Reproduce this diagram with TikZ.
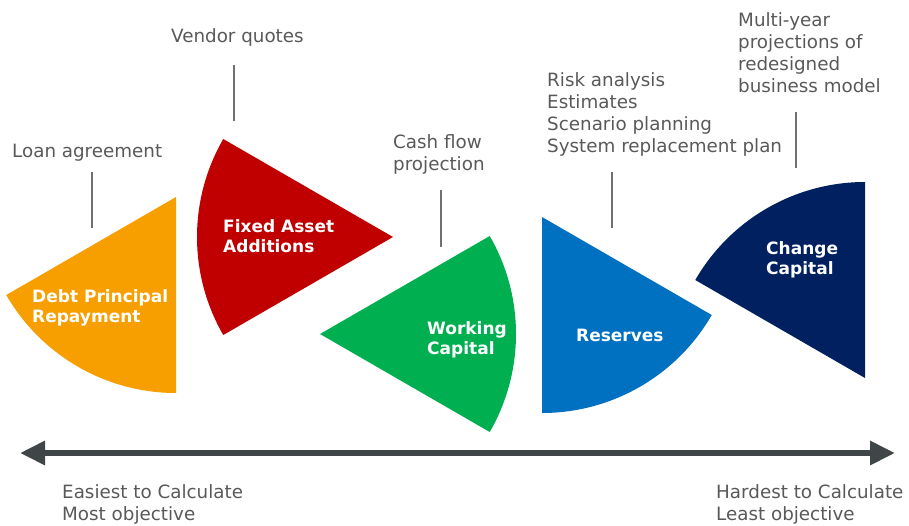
\documentclass[tikz,border=0pt]{standalone}
\usepackage{fontspec}
\setmainfont{DejaVu Sans}
\usetikzlibrary{arrows.meta}

\definecolor{debtcol}{RGB}{247,158,0}
\definecolor{assetcol}{RGB}{192,0,0}
\definecolor{workcol}{RGB}{0,176,80}
\definecolor{reservecol}{RGB}{0,112,192}
\definecolor{changecol}{RGB}{0,32,96}
\definecolor{notecol}{RGB}{89,89,89}
\definecolor{tickcol}{RGB}{112,112,112}
\definecolor{axiscol}{RGB}{64,69,71}

\begin{document}
\begin{tikzpicture}[x=1pt,y=-1pt]

        \useasboundingbox (0,0) rectangle (909,525);

        \fill[debtcol]    (176,197) -- ++(90:196)  arc (90:150:196)   -- cycle;
        \fill[assetcol]   (393,237) -- ++(150:196) arc (150:210:196)  -- cycle;
        \fill[workcol]    (320,334) -- ++(-30:196) arc (-30:30:196)   -- cycle;
        \fill[reservecol] (542,217) -- ++(30:196)  arc (30:90:196)    -- cycle;
        \fill[changecol]  (865,378) -- ++(210:196) arc (210:270:196)  -- cycle;

        \begin{scope}[every node/.style={anchor=base west, align=left, inner sep=0pt,
            text=white, font=\bfseries\fontsize{17}{20}\selectfont}]
          \node (1) at (32,322)  {Debt Principal\\Repayment};
          \node (2) at (223,252) {Fixed Asset\\Additions};
          \node (3) at (427,354) {Working\\Capital};
          \node (4) at (576,341) {Reserves};
          \node (5) at (766,274) {Change\\Capital};
        \end{scope}

        \begin{scope}[every node/.style={anchor=base west, align=left, inner sep=0pt,
            text=notecol, font=\fontsize{18.3}{22}\selectfont}]
          \node (n1) at (12,157)  {Loan agreement};
          \node (n2) at (171,42)  {Vendor quotes};
          \node (n3) at (393,170) {Cash flow\\projection};
          \node (n4) at (547,152) {Risk analysis\\Estimates\\Scenario planning\\System replacement plan};
          \node (n5) at (738,92)  {Multi-year\\projections of\\redesigned\\business model};
          \node (n6) at (62,520)  {Easiest to Calculate\\Most objective};
          \node (n7) at (716,520) {Hardest to Calculate\\Least objective};
        \end{scope}

        \begin{scope}[every path/.style={draw=tickcol, line width=1.4pt}]
          \coordinate (t1) at (92,172);  \coordinate (b1) at (92,228);
          \coordinate (t2) at (234,65);  \coordinate (b2) at (234,121);
          \coordinate (t3) at (441,190); \coordinate (b3) at (441,247);
          \coordinate (t4) at (612,172); \coordinate (b4) at (612,228);
          \coordinate (t5) at (796,112); \coordinate (b5) at (796,168);
          \path (t1) -- (b1);
          \path (t2) -- (b2);
          \path (t3) -- (b3);
          \path (t4) -- (b4);
          \path (t5) -- (b5);
        \end{scope}

        \coordinate (lo) at (20,453);
        \coordinate (hi) at (895,453);
        \draw[axiscol, line width=6pt,
          {Triangle[length=25pt,width=23pt]}-{Triangle[length=25pt,width=23pt]}] (lo) -- (hi);

      \end{tikzpicture}
\end{document}
